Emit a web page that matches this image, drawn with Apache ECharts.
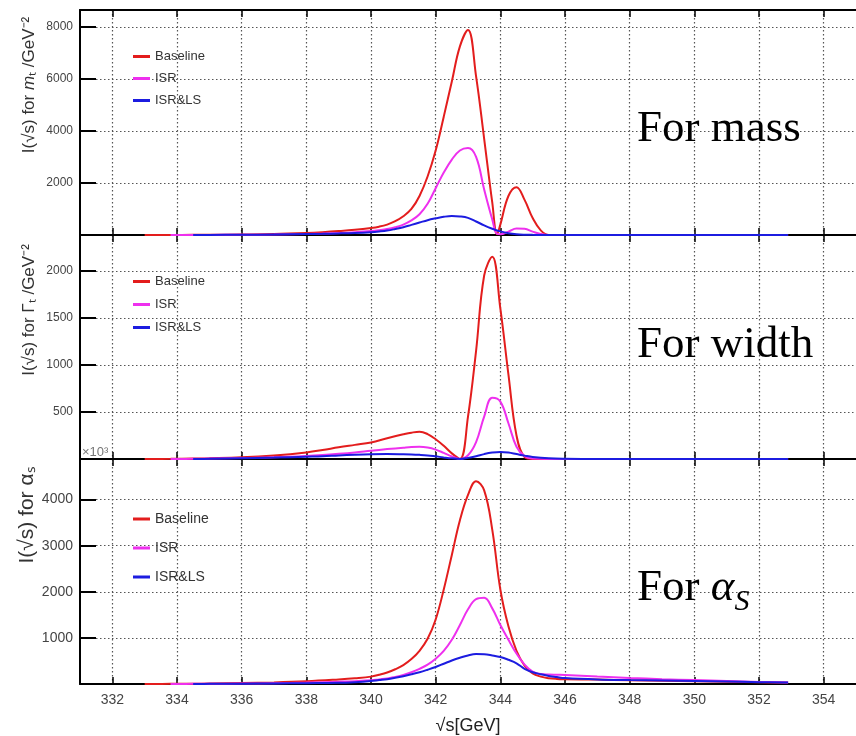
<!DOCTYPE html>
<html>
<head>
<meta charset="utf-8">
<script src="https://cdn.jsdelivr.net/npm/echarts@6/dist/echarts.min.js"></script>
<style>
html, body { margin: 0; padding: 0; background: #fff; }
#main { width: 856px; height: 736px; }
</style>
</head>
<body>
<div id="main"></div>
<script>
// x tick labels, shared by all three panels
const xTicks = [332, 334, 336, 338, 340, 342, 344, 346, 348, 350, 352, 354];
const seriesNames = ['Baseline', 'ISR', 'ISR&LS'];

// panel 1: for mass
const massX = [333, 333.8, 334.5, 335, 336, 337, 338, 338.5, 339, 339.5, 340, 340.25, 340.5, 340.75, 341, 341.25, 341.5, 341.75, 342, 342.25, 342.5, 342.75, 343, 343.25, 343.5, 343.75, 343.9, 344, 344.25, 344.5, 344.75, 345, 345.25, 345.5, 346, 347, 348, 350, 352.9];
const massBaseline = [0, 2, 5, 8, 20, 40, 80, 110, 150, 200, 270, 320, 400, 530, 720, 1000, 1500, 2250, 3250, 4550, 5900, 7250, 7880, 6100, 3700, 1250, 30, 400, 1500, 1840, 1350, 650, 180, 0, 0, 0, 0, 0, 0];
const massISR = [null, 0, 2, 4, 10, 20, 40, 55, 75, 105, 150, 185, 230, 300, 400, 560, 800, 1200, 1800, 2400, 2900, 3250, 3340, 3000, 1750, 600, 40, 30, 130, 250, 240, 130, 40, 0, 0, 0, 0, 0, 0];
const massLS = [null, null, 0, 3, 10, 20, 35, 45, 60, 80, 110, 135, 170, 230, 300, 390, 480, 570, 640, 700, 730, 715, 660, 520, 370, 240, 175, 140, 70, 30, 12, 5, 2, 0, 0, 0, 0, 0, 0];

// panel 2: for width
const widthX = [333, 333.8, 334.5, 335, 336, 337, 338, 338.5, 339, 339.5, 340, 340.5, 341, 341.25, 341.5, 341.75, 342, 342.25, 342.5, 342.75, 343, 343.25, 343.5, 343.75, 344, 344.25, 344.5, 344.75, 345, 345.5, 346, 347, 348, 350, 352.9];
const widthBaseline = [0, 2, 5, 8, 18, 38, 70, 95, 125, 150, 175, 220, 262, 280, 290, 265, 210, 140, 60, 0, 450, 1150, 1950, 2150, 1600, 900, 250, 20, 0, 0, 0, 0, 0, 0, 0];
const widthISR = [null, 0, 2, 4, 10, 18, 32, 42, 55, 70, 88, 105, 120, 127, 130, 122, 100, 65, 28, 0, 40, 180, 450, 650, 610, 380, 130, 30, 5, 0, 0, 0, 0, 0, 0];
const widthLS = [null, null, 0, 2, 8, 15, 25, 30, 38, 45, 50, 52, 50, 48, 44, 38, 28, 17, 7, 0, 12, 30, 52, 68, 75, 68, 52, 36, 22, 8, 3, 0, 0, 0, 0];

// panel 3: for alpha_s
const alphaX = [333, 333.8, 334.5, 335, 336, 337, 338, 339, 339.5, 340, 340.25, 340.5, 340.75, 341, 341.25, 341.5, 341.75, 342, 342.25, 342.5, 342.75, 343, 343.25, 343.5, 343.75, 344, 344.25, 344.5, 344.75, 345, 345.25, 345.5, 345.75, 346, 347, 348, 349, 350, 351, 352, 352.9];
const alphaBaseline = [0, 3, 6, 10, 20, 35, 60, 100, 125, 160, 200, 250, 320, 410, 540, 720, 980, 1400, 2050, 2800, 3550, 4100, 4400, 4200, 3350, 2050, 1250, 720, 400, 230, 160, 125, 110, 105, 95, 80, 70, 60, 50, 38, 30];
const alphaISR = [null, 0, 3, 5, 10, 18, 30, 50, 62, 80, 100, 120, 155, 195, 255, 330, 420, 550, 720, 960, 1280, 1620, 1840, 1870, 1640, 1280, 960, 660, 420, 270, 215, 205, 200, 195, 160, 130, 105, 85, 65, 45, 35];
const alphaLS = [null, null, 0, 3, 8, 12, 18, 25, 40, 65, 85, 105, 135, 170, 210, 255, 310, 370, 440, 510, 570, 620, 648, 645, 620, 585, 525, 450, 330, 255, 210, 175, 150, 130, 100, 85, 75, 65, 55, 40, 30];

const colors = ['#e31d1d', '#ee30ee', '#1c1ce0'];
const dotted = { color: '#555', width: 1.2, type: [1.5, 2.5] };
const sans = 'Liberation Sans';

let makeX = (grid, pos, showLabel) => ({
    type: 'value', gridIndex: grid, position: pos, min: 331, max: 355,
    name: showLabel ? '√s[GeV]' : '', nameLocation: 'middle', nameGap: 33,
    nameTextStyle: { fontSize: 18, color: '#222', fontFamily: sans },
    axisLine: { show: true, onZero: false, lineStyle: { color: '#000', width: 2 } },
    axisTick: { show: true, inside: true, length: 7, customValues: xTicks, lineStyle: { color: '#000', width: 1.5 } },
    axisLabel: { show: showLabel, customValues: xTicks, fontSize: 14, color: '#444', fontFamily: sans, margin: 9 },
    splitLine: { show: pos === 'bottom', customValues: xTicks, lineStyle: dotted }
});

let makeY = (grid, max, interval, fs) => ({
    type: 'value', gridIndex: grid, min: 0, max: max, interval: interval,
    axisLine: { show: true, lineStyle: { color: '#000', width: 2 } },
    axisTick: { show: true, inside: true, length: 16, lineStyle: { color: '#000', width: 2 } },
    axisLabel: {
        showMinLabel: false, showMaxLabel: false, fontSize: fs, color: '#444', fontFamily: sans, margin: 7,
        formatter: v => String(v)
    },
    splitLine: { show: true, lineStyle: dotted }
});

let makeLine = (name, xs, ys, idx, color) => ({
    name: name, type: 'line', xAxisIndex: idx * 2, yAxisIndex: idx,
    data: xs.map((x, i) => [x, ys[i]]),
    smooth: 0.4, showSymbol: false, symbol: 'none',
    lineStyle: { color: color, width: 2 }, itemStyle: { color: color }
});

let makeLegend = (top, fs, gap) => ({
    left: 133, top: top, padding: 0, orient: 'vertical', icon: 'rect',
    itemWidth: 17, itemHeight: 3, itemGap: gap, selectedMode: false,
    textStyle: { fontSize: fs, color: '#333', fontFamily: sans },
    data: seriesNames
});

let chart = echarts.init(document.getElementById('main'));

let panels = [
    [massX, massBaseline, massISR, massLS],
    [widthX, widthBaseline, widthISR, widthLS],
    [alphaX, alphaBaseline, alphaISR, alphaLS]
];
let series = [];
panels.forEach((p, idx) => {
    for (let k = 0; k < 3; k++) series.push(makeLine(seriesNames[k], p[0], p[k + 1], idx, colors[k]));
});

chart.setOption({
    animation: false,
    grid: [
        { left: 80, right: -4, top: 10, height: 225 },
        { left: 80, right: -4, top: 235, height: 224 },
        { left: 80, right: -4, top: 459, height: 226 }
    ],
    xAxis: [
        makeX(0, 'bottom', false), makeX(0, 'top', false),
        makeX(1, 'bottom', false), makeX(1, 'top', false),
        makeX(2, 'bottom', true), makeX(2, 'top', false)
    ],
    yAxis: [
        makeY(0, 8650, 2000, 12),
        makeY(1, 2380, 500, 12),
        makeY(2, 4880, 1000, 14)
    ],
    legend: [makeLegend(50, 13, 9), makeLegend(275, 13, 10), makeLegend(512, 14, 15)],
    series: series,
    graphic: [
        {
            type: 'text', x: 29, y: 85, rotation: Math.PI / 2,
            style: {
                text: '{a|I(√s) for }{i|m}{a|ₜ /GeV⁻²}', align: 'center', verticalAlign: 'middle',
                rich: {
                    a: { fontSize: 17, fontFamily: sans, fill: '#333' },
                    i: { fontSize: 17, fontFamily: sans, fontStyle: 'italic', fill: '#333' }
                }
            }
        },
        {
            type: 'text', x: 29, y: 310, rotation: Math.PI / 2,
            style: { text: 'I(√s) for Γₜ /GeV⁻²', align: 'center', verticalAlign: 'middle', font: '17px "Liberation Sans"', fill: '#333' }
        },
        {
            type: 'text', x: 27, y: 515, rotation: Math.PI / 2,
            style: { text: 'I(√s) for αₛ', align: 'center', verticalAlign: 'middle', font: '21px "Liberation Sans"', fill: '#333' }
        },
        {
            type: 'text', x: 82, y: 446,
            style: { text: '×10³', font: '13px "Liberation Sans"', fill: '#777' }
        },
        {
            type: 'text', x: 637, y: 129, z: 10,
            style: { text: 'For mass', font: '45px "Liberation Serif"', fill: '#000', verticalAlign: 'middle' }
        },
        {
            type: 'text', x: 637, y: 345, z: 10,
            style: { text: 'For width', font: '45px "Liberation Serif"', fill: '#000', verticalAlign: 'middle' }
        },
        {
            type: 'text', x: 637, y: 588, z: 10,
            style: {
                text: '{n|For }{g|α}{s|S}', verticalAlign: 'middle',
                rich: {
                    n: { fontSize: 45, fontFamily: 'Liberation Serif', fill: '#000', lineHeight: 50 },
                    g: { fontSize: 45, fontFamily: 'Liberation Serif', fontStyle: 'italic', fill: '#000', lineHeight: 50 },
                    s: { fontSize: 30, fontFamily: 'Liberation Serif', fontStyle: 'italic', fill: '#000', lineHeight: 30, padding: [28, 0, 0, 0] }
                }
            }
        }
    ]
});
</script>
</body>
</html>
